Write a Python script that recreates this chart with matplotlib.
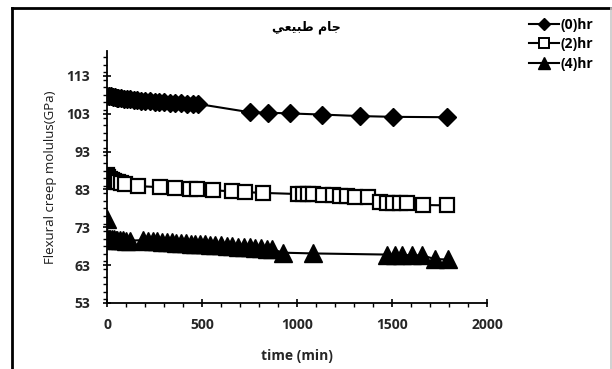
import matplotlib
matplotlib.use("Agg")
import matplotlib.pyplot as plt
from matplotlib.lines import Line2D
from matplotlib.ticker import MultipleLocator

# Creep modulus readings (GPa) versus time (min) for three conditioning times
t0 = [0, 10, 20, 30, 40, 50, 60, 75, 90, 105, 120, 140, 160, 180, 200, 225,
      250, 275, 300, 330, 360, 390, 420, 450, 480, 753, 847, 963, 1132, 1332,
      1505, 1789]
v0 = [107.8, 107.7, 107.6, 107.5, 107.4, 107.3, 107.2, 107.1, 107.0, 106.9,
      106.8, 106.7, 106.6, 106.5, 106.4, 106.3, 106.2, 106.1, 106.0, 105.9,
      105.9, 105.8, 105.7, 105.7, 105.6, 103.4, 103.3, 103.1, 102.8, 102.4,
      102.2, 102.1]

t2 = [0, 5, 15, 25, 35, 45, 60, 75, 95, 163, 279, 358, 437, 474, 558, 658,
      726, 821, 1005, 1032, 1058, 1084, 1137, 1189, 1226, 1263, 1305, 1374,
      1437, 1474, 1505, 1542, 1579, 1663, 1789]
v2 = [86.8, 86.2, 85.9, 85.6, 85.3, 85.1, 84.9, 84.7, 84.5, 83.9, 83.6, 83.4,
      83.2, 83.1, 82.8, 82.5, 82.3, 82.1, 81.8, 81.8, 81.7, 81.7, 81.6, 81.5,
      81.4, 81.3, 81.1, 81.0, 79.6, 79.5, 79.4, 79.3, 79.3, 78.9, 78.8]

t4 = [0, 0, 8, 15, 25, 35, 45, 55, 70, 85, 100, 120, 190, 215, 240, 265, 290,
      315, 340, 365, 390, 415, 440, 465, 490, 515, 540, 570, 600, 630, 660,
      690, 720, 750, 780, 810, 840, 870, 926, 1084, 1474, 1516, 1553, 1605,
      1658, 1726, 1795]
v4 = [75.2, 70.2, 70.0, 69.9, 69.8, 69.8, 69.7, 69.7, 69.6, 69.6, 69.5, 69.5,
      69.6, 69.5, 69.4, 69.3, 69.2, 69.1, 69.0, 68.9, 68.9, 68.8, 68.7, 68.7,
      68.6, 68.5, 68.4, 68.3, 68.2, 68.1, 68.0, 67.9, 67.8, 67.7, 67.6, 67.5,
      67.4, 67.2, 66.3, 66.1, 65.8, 65.7, 65.7, 65.6, 65.6, 64.6, 64.5]

series_labels = ["(0)hr", "(2)hr", "(4)hr"]
title_text = "جام طبيعي"
x_label = "time (min)"
y_label = "Flexural creep molulus(GPa)"
y_ticks = [53, 63, 73, 83, 93, 103, 113]
x_ticks = [0, 500, 1000, 1500, 2000]


def shape_arabic(text):
    """Map Arabic letters to contextual presentation forms in visual order."""
    forms = {
        # letter: (isolated, final, initial, medial)
        "ج": ("\ufe9d", "\ufe9e", "\ufe9f", "\ufea0"),
        "ا": ("\ufe8d", "\ufe8e", None, None),
        "م": ("\ufee1", "\ufee2", "\ufee3", "\ufee4"),
        "ط": ("\ufec1", "\ufec2", "\ufec3", "\ufec4"),
        "ب": ("\ufe8f", "\ufe90", "\ufe91", "\ufe92"),
        "ي": ("\ufef1", "\ufef2", "\ufef3", "\ufef4"),
        "ع": ("\ufec9", "\ufeca", "\ufecb", "\ufecc"),
    }
    out = []
    for word in text.split(" "):
        shaped = []
        for i, ch in enumerate(word):
            f = forms[ch]
            prev_joins = i > 0 and forms[word[i - 1]][2] is not None
            next_exists = i < len(word) - 1
            can_join_next = f[2] is not None and next_exists
            if prev_joins and can_join_next:
                shaped.append(f[3])
            elif prev_joins:
                shaped.append(f[1])
            elif can_join_next:
                shaped.append(f[2])
            else:
                shaped.append(f[0])
        out.append("".join(reversed(shaped)))
    return " ".join(reversed(out))


plt.rcParams["font.family"] = ["Open Sans", "DejaVu Sans"]

fig = plt.figure(figsize=(6.12, 3.69), dpi=100)
ax = fig.add_axes([107 / 612, 1 - 303 / 369, 380 / 612, 252 / 369])

ax.plot(t0, v0, color="black", lw=1.5, marker="D", ms=9.5,
        mfc="black", mec="black", zorder=3)
ax.plot(t2, v2, color="black", lw=1.5, marker="s", ms=10.5,
        mfc="white", mec="black", mew=1.6, zorder=2)
ax.plot(t4, v4, color="black", lw=1.5, marker="^", ms=13,
        mfc="black", mec="black", zorder=4)

ax.set_xlim(0, 2000)
ax.set_ylim(53, 119.6)
ax.set_xticks(x_ticks)
ax.set_yticks(y_ticks)
ax.xaxis.set_minor_locator(MultipleLocator(100))
ax.yaxis.set_minor_locator(MultipleLocator(2))
ax.tick_params(axis="both", which="major", direction="inout", length=6,
               width=1.2, labelsize=10)
ax.tick_params(axis="x", which="major", pad=8)
ax.tick_params(axis="y", which="major", pad=9)
ax.tick_params(axis="both", which="minor", direction="out", length=3,
               width=1.0)
for lbl in ax.get_xticklabels() + ax.get_yticklabels():
    lbl.set_fontweight("bold")
    lbl.set_color("#262626")

for side in ("top", "right"):
    ax.spines[side].set_visible(False)
for side in ("left", "bottom"):
    ax.spines[side].set_linewidth(1.3)

ax.set_xlabel(x_label, fontsize=10, fontweight="bold", color="#262626",
              labelpad=12)
ax.set_ylabel(y_label, fontsize=9.5, color="#1a1a1a", labelpad=7)

fig.text(306 / 612, 1 - 27 / 369, shape_arabic(title_text),
         family="DejaVu Sans", fontsize=9, fontweight="bold",
         ha="center", va="center")

handles = [
    Line2D([], [], color="black", lw=1.5, marker="D", ms=6, mfc="black"),
    Line2D([], [], color="black", lw=1.5, marker="s", ms=7, mfc="white",
           mew=1.4),
    Line2D([], [], color="black", lw=1.5, marker="^", ms=8, mfc="black"),
]
fig.legend(handles, series_labels, loc="upper left",
           bbox_to_anchor=(516 / 612, 1 - 5 / 369), frameon=False,
           handlelength=2.2, handletextpad=0.1, labelspacing=0.4,
           prop={"weight": "bold", "size": 10})

# Outer frame lines
fig.add_artist(Line2D([12 / 612, 12 / 612], [0, 1 - 8 / 369],
                      transform=fig.transFigure, color="black", lw=2))
fig.add_artist(Line2D([12 / 612, 611 / 612], [1 - 8 / 369, 1 - 8 / 369],
                      transform=fig.transFigure, color="black", lw=2))
fig.add_artist(Line2D([610.5 / 612, 610.5 / 612], [0, 1 - 8 / 369],
                      transform=fig.transFigure, color="#c8c8c8", lw=1.2))

fig.savefig("out.png", dpi=100)
